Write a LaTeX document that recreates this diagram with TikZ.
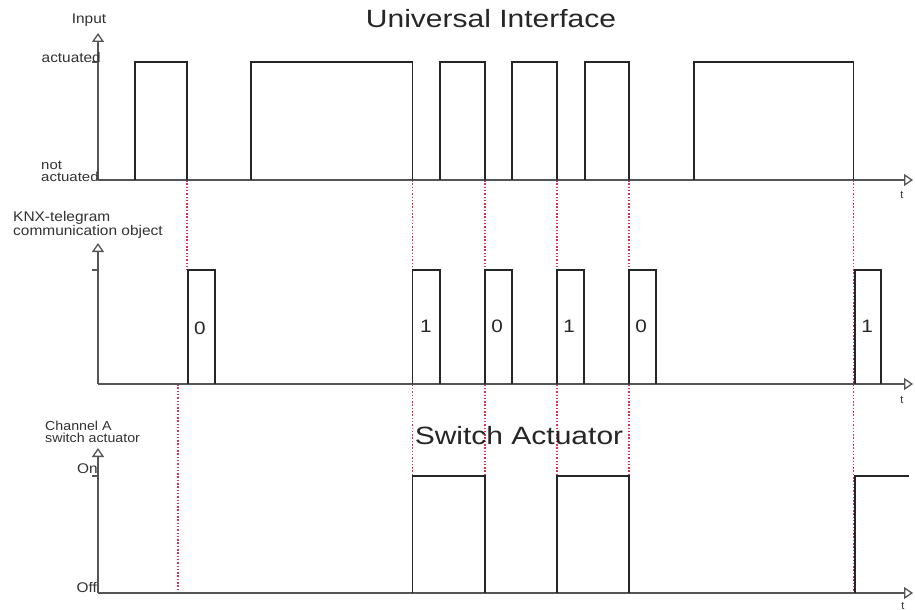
\documentclass[tikz,border=0pt]{standalone}
\usepackage{fontspec}
\setmainfont{Liberation Sans}
\usetikzlibrary{arrows.meta}
\definecolor{axisgray}{RGB}{85,85,85}
\definecolor{dotred}{RGB}{220,50,80}
\definecolor{txtgray}{RGB}{50,50,50}
\begin{document}
\begin{tikzpicture}[x=1pt,y=-1pt,
  axis/.style={draw=axisgray, line width=1.8pt, -{Triangle[open, length=9pt, width=12pt, line width=1.3pt]}},
  sig/.style={draw=black!85, line width=1.1pt},
  tickm/.style={draw=axisgray, line width=1.1pt},
  guide/.style={draw=dotred, line width=1.4pt, dash pattern=on 1.5pt off 1.8pt},
  lbl/.style={font=\fontsize{14}{14}\selectfont, text=txtgray, inner sep=0pt, xscale=1.1},
  lbl2/.style={font=\fontsize{13}{12}\selectfont, text=txtgray, inner sep=0pt, xscale=1.15, align=left},
  ttl/.style={font=\fontsize{25}{25}\selectfont, text=black!85, inner sep=0pt, xscale=1.2},
  bit/.style={font=\fontsize{18}{18}\selectfont, text=black!85, inner sep=0pt, xscale=1.15},
  tlbl/.style={font=\fontsize{11}{11}\selectfont, text=txtgray, inner sep=0pt}]
\useasboundingbox (0,0) rectangle (915,610);
\fill[white] (0,0) rectangle (915,610);

% origins
\coordinate (o1) at (98,180);
\coordinate (o2) at (98,384);
\coordinate (o3) at (98,593);
\coordinate (y1) at (98,33);
\coordinate (y2) at (98,243);
\coordinate (y3) at (98,448);
\coordinate (x1) at (913,180);
\coordinate (x2) at (913,384);
\coordinate (x3) at (913,593);

% guides (red dotted)
\draw[guide] (187,180) -- (187,270);
\draw[guide] (178,384) -- (178,593);
\foreach \gx in {412.5,485,557,629,853.5}
  \draw[guide] (\gx,180) -- (\gx,593);

% titles
\node[ttl] (title1) at (491,19) {Universal Interface};
\node[ttl] (title2) at (519,436) {Switch Actuator};

% top panel
\draw[axis] (o1) -- (y1);
\draw[axis] (o1) -- (x1);
\draw[tickm] (92,62) -- (98,62);
\node[lbl] (in) at (89,20) {Input};
\node[lbl, anchor=east] (act) at (101,57) {actuated};
\node[lbl2, anchor=west] (nact) at (41,171) {not\\actuated};
\node[tlbl] (t1) at (902,195) {t};
\foreach \a/\b in {135/187,251/412.5,440/485,512/557,585/629,694/853.5}
  \draw[sig] (\a,180) |- (\b,62) -- (\b,180);

% middle panel
\draw[axis] (o2) -- (y2);
\draw[axis] (o2) -- (x2);
\draw[tickm] (92,270) -- (98,270);
\node[lbl2, anchor=west, font=\fontsize{14}{14}\selectfont, xscale=0.96] (knx) at (13,225) {KNX-telegram\\communication object};
\node[tlbl] (t2) at (902,400) {t};
\foreach \a/\b in {188/215,412.5/440,485/512,557/584,629/656,855/881}
  \draw[sig] (\a,384) |- (\b,270) -- (\b,384);
\node[bit] (b1) at (200,328) {0};
\node[bit] (b2) at (426,326) {1};
\node[bit] (b3) at (497,326) {0};
\node[bit] (b4) at (569,326) {1};
\node[bit] (b5) at (641,326) {0};
\node[bit] (b6) at (867,326) {1};

% bottom panel
\draw[axis] (o3) -- (y3);
\draw[axis] (o3) -- (x3);
\draw[tickm] (92,476) -- (98,476);
\node[lbl2, anchor=west, xscale=0.95] (ch) at (45,432) {Channel A\\switch actuator};
\node[lbl, anchor=east] (on) at (98,469) {On};
\node[lbl, anchor=east] (off) at (97,587) {Off};
\node[tlbl] (t3) at (903,606) {t};
\draw[sig] (412.5,593) |- (485,476) -- (485,593);
\draw[sig] (557,593) |- (629,476) -- (629,593);
\draw[sig] (855,593) |- (909,476);
\end{tikzpicture}
\end{document}
